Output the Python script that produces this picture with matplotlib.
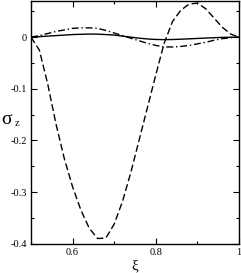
import matplotlib
matplotlib.use("Agg")
import matplotlib.pyplot as plt
from matplotlib.ticker import MultipleLocator, FixedLocator, FixedFormatter

plt.rcParams['font.family'] = ['Liberation Serif', 'DejaVu Serif']
plt.rcParams['axes.unicode_minus'] = False
plt.rcParams['mathtext.fontset'] = 'stix'

xi = [0.50, 0.52, 0.54, 0.56, 0.58, 0.60, 0.62, 0.64, 0.66, 0.68, 0.70, 0.72, 0.74,
      0.76, 0.78, 0.80, 0.82, 0.84, 0.86, 0.88, 0.90, 0.92, 0.94, 0.96, 0.98, 1.00]

sigma_dashed = [0.0, -0.025, -0.09, -0.168, -0.235, -0.29, -0.335, -0.37, -0.39, -0.389,
                -0.362, -0.318, -0.262, -0.199, -0.136, -0.073, -0.012, 0.030, 0.052, 0.064,
                0.066, 0.055, 0.037, 0.019, 0.006, 0.0]

sigma_dashdot = [0.0, 0.003, 0.007, 0.011, 0.014, 0.017, 0.018, 0.018, 0.017, 0.013,
                 0.008, 0.003, -0.002, -0.007, -0.012, -0.016, -0.019, -0.019, -0.018,
                 -0.016, -0.013, -0.010, -0.006, -0.003, -0.001, 0.0]

sigma_solid = [0.0, 0.001, 0.002, 0.003, 0.004, 0.005, 0.0055, 0.006, 0.0058, 0.005,
               0.004, 0.002, 0.0, -0.002, -0.0035, -0.0045, -0.0048, -0.0046, -0.004,
               -0.0033, -0.0025, -0.0018, -0.0011, -0.0005, -0.0002, 0.0]

x_ticks = [0.6, 0.8, 1.0]
x_ticklabels = ['0.6', '0.8', '1']
y_ticks = [0.0, -0.1, -0.2, -0.3, -0.4]
y_ticklabels = ['0', '-0.1', '-0.2', '-0.3', '-0.4']

fig = plt.figure(figsize=(2.41, 2.73), dpi=100)
ax = fig.add_axes([31/241, 29.3/273, 208/241, 242.7/273])

ax.plot(xi, sigma_solid, color='black', lw=1.0, ls='-')
ax.plot(xi, sigma_dashed, color='black', lw=1.0, ls=(0, (5, 2.3)))
ax.plot(xi, sigma_dashdot, color='black', lw=1.0, ls=(0, (5, 2, 1, 2)))

ax.set_xlim(0.5, 1.0)
ax.set_ylim(-0.4, 0.07)

ax.xaxis.set_major_locator(FixedLocator(x_ticks))
ax.xaxis.set_major_formatter(FixedFormatter(x_ticklabels))
ax.xaxis.set_minor_locator(MultipleLocator(0.1))
ax.yaxis.set_major_locator(FixedLocator(y_ticks))
ax.yaxis.set_major_formatter(FixedFormatter(y_ticklabels))
ax.yaxis.set_minor_locator(MultipleLocator(0.05))

ax.tick_params(which='both', direction='in', top=True, right=True, labelsize=7.5, pad=3)
ax.tick_params(which='major', length=4.5, width=0.8)
ax.tick_params(which='minor', length=2.5, width=0.8)
for s in ax.spines.values():
    s.set_linewidth(1.0)

ax.set_xlabel('ξ', fontsize=11, labelpad=2)
fig.text(0.005, 1 - 120/273, 'σ', fontsize=14, ha='left', va='center')
fig.text(0.06, 1 - 123/273, 'z', fontsize=7.5, ha='left', va='center')

fig.savefig('out.png', dpi=100)
